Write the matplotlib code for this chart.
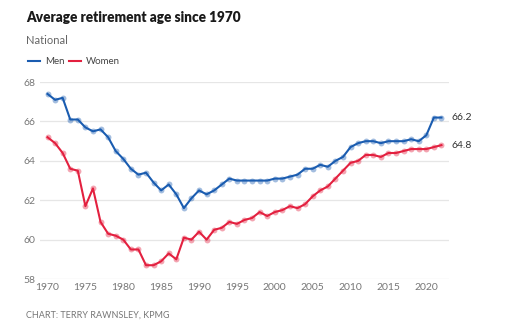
import matplotlib
matplotlib.use("Agg")
import matplotlib.pyplot as plt

plt.rcParams['font.family'] = ['Lato', 'DejaVu Sans']

years = list(range(1970, 2023))
men = [67.4, 67.1, 67.2, 66.1, 66.1, 65.7, 65.5, 65.6, 65.2, 64.5,
       64.1, 63.6, 63.3, 63.4, 62.9, 62.5, 62.8, 62.3, 61.6, 62.1,
       62.5, 62.3, 62.5, 62.8, 63.1, 63.0, 63.0, 63.0, 63.0, 63.0,
       63.1, 63.1, 63.2, 63.3, 63.6, 63.6, 63.8, 63.7, 64.0, 64.2,
       64.7, 64.9, 65.0, 65.0, 64.9, 65.0, 65.0, 65.0, 65.1, 65.0,
       65.3, 66.2, 66.2]
women = [65.2, 64.9, 64.4, 63.6, 63.5, 61.7, 62.6, 60.9, 60.3, 60.2,
         60.0, 59.5, 59.5, 58.7, 58.7, 58.9, 59.3, 59.0, 60.1, 60.0,
         60.4, 60.0, 60.5, 60.6, 60.9, 60.8, 61.0, 61.1, 61.4, 61.2,
         61.4, 61.5, 61.7, 61.6, 61.8, 62.2, 62.5, 62.7, 63.1, 63.5,
         63.9, 64.0, 64.3, 64.3, 64.2, 64.4, 64.4, 64.5, 64.6, 64.6,
         64.6, 64.7, 64.8]
series_names = ['Men', 'Women']
colors = ['#1a5cb0', '#e3203f']
year_ticks = [1970, 1975, 1980, 1985, 1990, 1995, 2000, 2005, 2010, 2015, 2020]
age_ticks = [58, 60, 62, 64, 66, 68]

fig = plt.figure(figsize=(5.12, 3.22), dpi=100)
ax = fig.add_axes([0.078, 0.1335, 0.799, 0.6115])

for vals, name, c in zip([men, women], series_names, colors):
    ax.plot(years, vals, color=c, lw=1.5, zorder=3)
    ax.scatter(years, vals, s=18, color=c, alpha=0.4, lw=0, zorder=4)
    ax.annotate(f'{vals[-1]:.1f}', xy=(years[-1], vals[-1]), xytext=(7, 0),
                textcoords='offset points', va='center', ha='left',
                fontsize=7.5, color='#333333', annotation_clip=False)

ax.set_xlim(1969, 2023)
ax.set_ylim(58, 68)
ax.set_xticks(year_ticks)
ax.set_yticks(age_ticks)
ax.grid(axis='y', color='#e6e6e6', lw=0.9, zorder=0)
ax.tick_params(length=0, labelsize=7.5, labelcolor='#777777', pad=3)
for s in ax.spines.values():
    s.set_visible(False)

fig.text(0.051, 0.945, 'Average retirement age since 1970', fontsize=9.8,
         fontweight='heavy', color='#1a1a1a', va='center')
fig.text(0.051, 0.875, 'National', fontsize=8, color='#666666', va='center')

# legend
lx = [0.055, 0.135]
for x0, name, c in zip(lx, series_names, colors):
    fig.add_artist(plt.Line2D([x0, x0 + 0.023], [0.81, 0.81], color=c, lw=1.5))
    fig.text(x0 + 0.033, 0.81, name, fontsize=7, color='#444444', va='center')

fig.text(0.051, 0.022, 'CHART: TERRY RAWNSLEY, KPMG', fontsize=6.5, color='#777777', va='center')

fig.savefig('out.png', dpi=100, facecolor='white')
